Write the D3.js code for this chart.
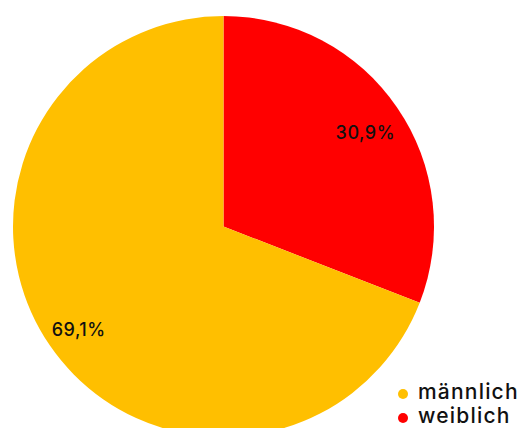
<!DOCTYPE html>
<html>
<head>
<meta charset="utf-8">
<script src="https://cdn.jsdelivr.net/npm/d3@7"></script>
<style>
  html, body { margin: 0; padding: 0; background: #fff; }
  svg { display: block; }
</style>
</head>
<body>
<svg id="chart" width="521" height="428"></svg>
<script>
// Gender distribution
const categories = ["weiblich", "männlich"];
const values = [30.9, 69.1];
const legendOrder = ["männlich", "weiblich"];
const colors = { "männlich": "#FFBF00", "weiblich": "#FF0000" };

const svg = d3.select("#chart");
const cx = 223.5, cy = 226.5, radius = 210.5;
const font = "Inter, 'Noto Sans', sans-serif";

const data = categories.map((c, i) => ({ name: c, value: values[i] }));

const pie = d3.pie().value(d => d.value).sort(null);
const arc = d3.arc().innerRadius(0).outerRadius(radius);
const labelArc = d3.arc().innerRadius(radius * 0.825).outerRadius(radius * 0.825);

const g = svg.append("g").attr("transform", `translate(${cx},${cy})`);
const arcs = pie(data);

g.selectAll("path.slice")
  .data(arcs)
  .join("path")
  .attr("class", "slice")
  .attr("d", arc)
  .attr("fill", d => colors[d.data.name]);

const fmt = v => v.toFixed(1).replace(".", ",") + "%";

// value labels, baseline set a little below the slice centroid
g.selectAll("text.value")
  .data(arcs)
  .join("text")
  .attr("class", "value")
  .attr("transform", d => {
    const [x, y] = labelArc.centroid(d);
    return `translate(${x - 1.5},${y + 11})`;
  })
  .attr("text-anchor", "middle")
  .attr("font-family", font)
  .attr("font-size", 18)
  .attr("font-weight", 500)
  .attr("letter-spacing", 0.5)
  .attr("fill", "#111")
  .text(d => fmt(d.data.value));

// Legend
const legend = svg.append("g").attr("transform", "translate(403,394)");
const items = legend.selectAll("g.item")
  .data(legendOrder)
  .join("g")
  .attr("class", "item")
  .attr("transform", (d, i) => `translate(0,${i * 24})`);

items.append("circle")
  .attr("r", 5)
  .attr("fill", d => colors[d]);

items.append("text")
  .attr("x", 15)
  .attr("y", 5)
  .attr("font-family", font)
  .attr("font-size", 21)
  .attr("font-weight", 500)
  .attr("letter-spacing", 1.2)
  .attr("fill", "#111")
  .text(d => d);
</script>
</body>
</html>
